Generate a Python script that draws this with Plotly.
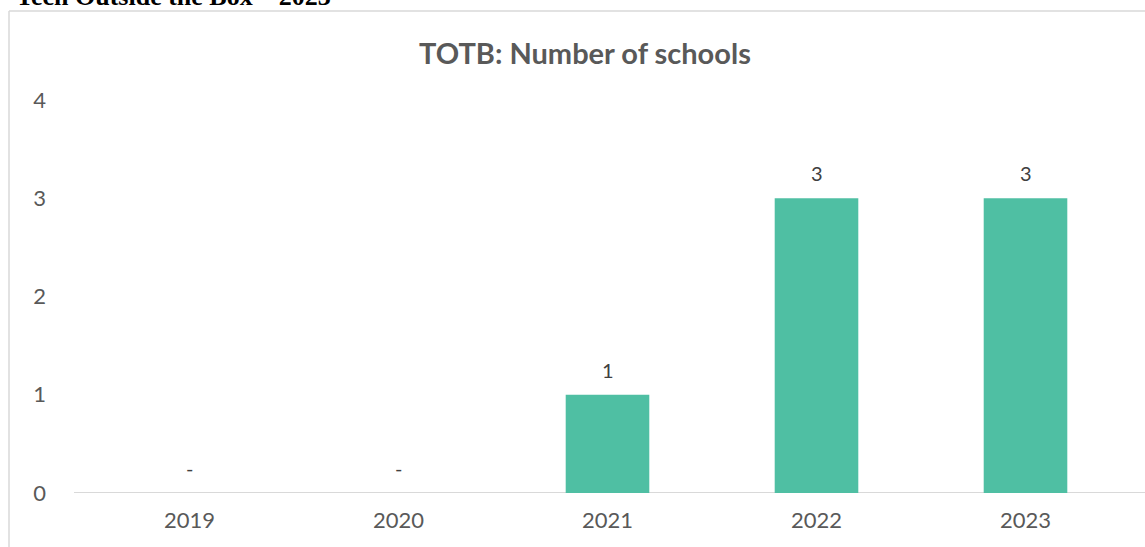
import plotly.graph_objects as go

years = ["2019", "2020", "2021", "2022", "2023"]
schools = [0, 0, 1, 3, 3]
y_ticks = [0, 1, 2, 3, 4]
chart_title = "TOTB: Number of schools"
page_title = "Tech Outside the Box – 2023"

labels = ["-" if v == 0 else str(v) for v in schools]

W, H = 1145, 547
L, R, T, B = 85, 15, 100, 54
pw = W - L - R
ph = H - T - B
FONT = "Lato, Open Sans, sans-serif"

def px_x(x):
    return (x - L) / pw

def px_y(y):
    return (H - B - y) / ph

fig = go.Figure()
fig.add_trace(go.Bar(
    x=years, y=schools,
    marker=dict(color="#4fbfa3", line=dict(width=0)),
    width=0.4,
))

annotations = [
    dict(text=t, x=i, y=v, xref="x", yref="y", yshift=25,
         showarrow=False, xanchor="center", yanchor="middle",
         font=dict(family=FONT, size=20, color="#404040"))
    for i, (v, t) in enumerate(zip(schools, labels))
]
annotations += [
    dict(text="<b>" + chart_title + "</b>", xref="paper", yref="paper",
         x=px_x(585), y=px_y(52), xanchor="center", yanchor="middle", showarrow=False,
         font=dict(family=FONT, size=29, color="#595959")),
    dict(text="<b>" + page_title + "</b>", xref="paper", yref="paper",
         x=px_x(14), y=px_y(13), xanchor="left", yanchor="bottom", showarrow=False,
         font=dict(family="Liberation Serif, serif", size=26, color="#000000")),
]

fig.update_layout(
    width=W, height=H,
    margin=dict(l=L, r=R, t=T, b=B),
    paper_bgcolor="white", plot_bgcolor="white",
    showlegend=False,
    xaxis=dict(
        type="category", showgrid=False, showline=False,
        ticks="", tickfont=dict(family=FONT, size=22, color="#595959"),
        ticklabelstandoff=12,
    ),
    yaxis=dict(
        range=[0, 4], tickvals=y_ticks, showgrid=False, zeroline=False, showline=False,
        ticks="", tickfont=dict(family=FONT, size=22, color="#595959"),
        ticklabelstandoff=38,
    ),
    annotations=annotations,
    shapes=[
        dict(type="line", xref="paper", yref="y", x0=px_x(74), x1=px_x(1146),
             y0=0, y1=0, line=dict(color="#d9d9d9", width=2), layer="below"),
        dict(type="line", xref="paper", yref="paper", x0=px_x(9), x1=px_x(1146),
             y0=px_y(11), y1=px_y(11), line=dict(color="#d9d9d9", width=1.5)),
        dict(type="line", xref="paper", yref="paper", x0=px_x(9), x1=px_x(9),
             y0=px_y(11), y1=px_y(548), line=dict(color="#d9d9d9", width=1.5)),
    ],
)

fig.write_html("out.html", config={"displayModeBar": False},
               post_script="document.body.style.margin='0';")
